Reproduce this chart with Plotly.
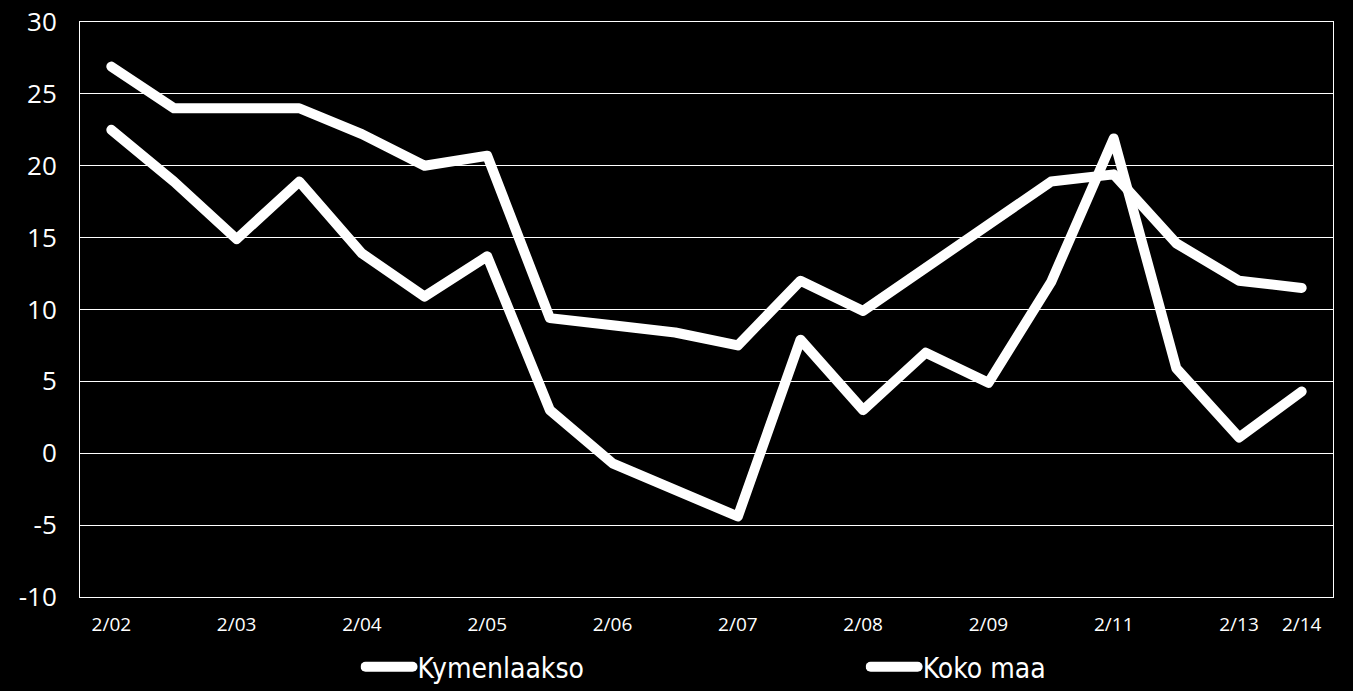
import plotly.graph_objects as go

periods = ["2/02", "8/02", "2/03", "8/03", "2/04", "8/04", "2/05", "8/05",
           "2/06", "8/06", "2/07", "8/07", "2/08", "8/08", "2/09", "8/09",
           "2/11", "8/11", "2/13", "2/14"]
tick_labels = ["2/02", "", "2/03", "", "2/04", "", "2/05", "", "2/06", "",
               "2/07", "", "2/08", "", "2/09", "", "2/11", "", "2/13", "2/14"]
y_ticks = [-10, -5, 0, 5, 10, 15, 20, 25, 30]
y_tick_labels = ["-10", "-5", "0", "5", "10", "15", "20", "25", "30"]
kymenlaakso = [22.5, 18.9, 14.9, 18.9, 13.9, 10.9, 13.7, 3.0, -0.7, -2.5,
               -4.4, 7.9, 3.0, 7.0, 4.9, 11.9, 21.9, 5.9, 1.1, 4.3]
koko_maa = [26.9, 24.0, 24.0, 24.0, 22.2, 20.0, 20.7, 9.4, 8.9, 8.4,
            7.5, 12.0, 9.9, 12.9, 15.9, 18.9, 19.4, 14.6, 12.0, 11.5]

fig = go.Figure()
fig.add_trace(go.Scatter(x=periods, y=kymenlaakso, mode="lines", name="Kymenlaakso",
                         line=dict(color="white", width=10), legend="legend"))
fig.add_trace(go.Scatter(x=periods, y=koko_maa, mode="lines", name="Koko maa",
                         line=dict(color="white", width=10), legend="legend2"))

leg_common = dict(yanchor="middle", y=-0.1217, xanchor="left",
                  font=dict(size=28, family="DejaVu Sans Condensed", color="white"),
                  bgcolor="rgba(0,0,0,0)", itemwidth=47, borderwidth=0)

fig.update_layout(
    width=1353, height=691,
    paper_bgcolor="black", plot_bgcolor="black",
    margin=dict(l=80, r=20, t=22, b=94, autoexpand=False),
    font=dict(family="Open Sans", color="white"),
    showlegend=True,
    legend=dict(x=0.2239, **leg_common),
    legend2=dict(x=0.627, **leg_common),
)
fig.update_xaxes(type="category", tickmode="array", tickvals=periods, ticktext=tick_labels,
                 range=[-0.5, 19.5], showgrid=False, showline=True, mirror=True,
                 linecolor="white", linewidth=1, ticks="", ticklabelstandoff=10,
                 tickfont=dict(size=19, color="white"), zeroline=False, automargin=False)
fig.update_yaxes(range=[-10, 30], tickmode="array", tickvals=y_ticks, ticktext=y_tick_labels,
                 showgrid=True, gridcolor="white", gridwidth=1,
                 showline=True, mirror=True, linecolor="white", linewidth=1,
                 ticks="", ticklabelstandoff=17, tickfont=dict(size=26, color="white"),
                 zeroline=False, automargin=False)

post = (
    "document.body.style.margin='0';document.body.style.background='black';"
    "document.documentElement.style.background='black';"
    "var s=document.createElement('style');"
    "s.textContent='.scatterlayer .js-line, .legendlines path{stroke-linecap:round !important;stroke-linejoin:round !important;}';"
    "document.head.appendChild(s);"
)

fig.write_html("out.html", config={"displayModeBar": False}, post_script=post)
